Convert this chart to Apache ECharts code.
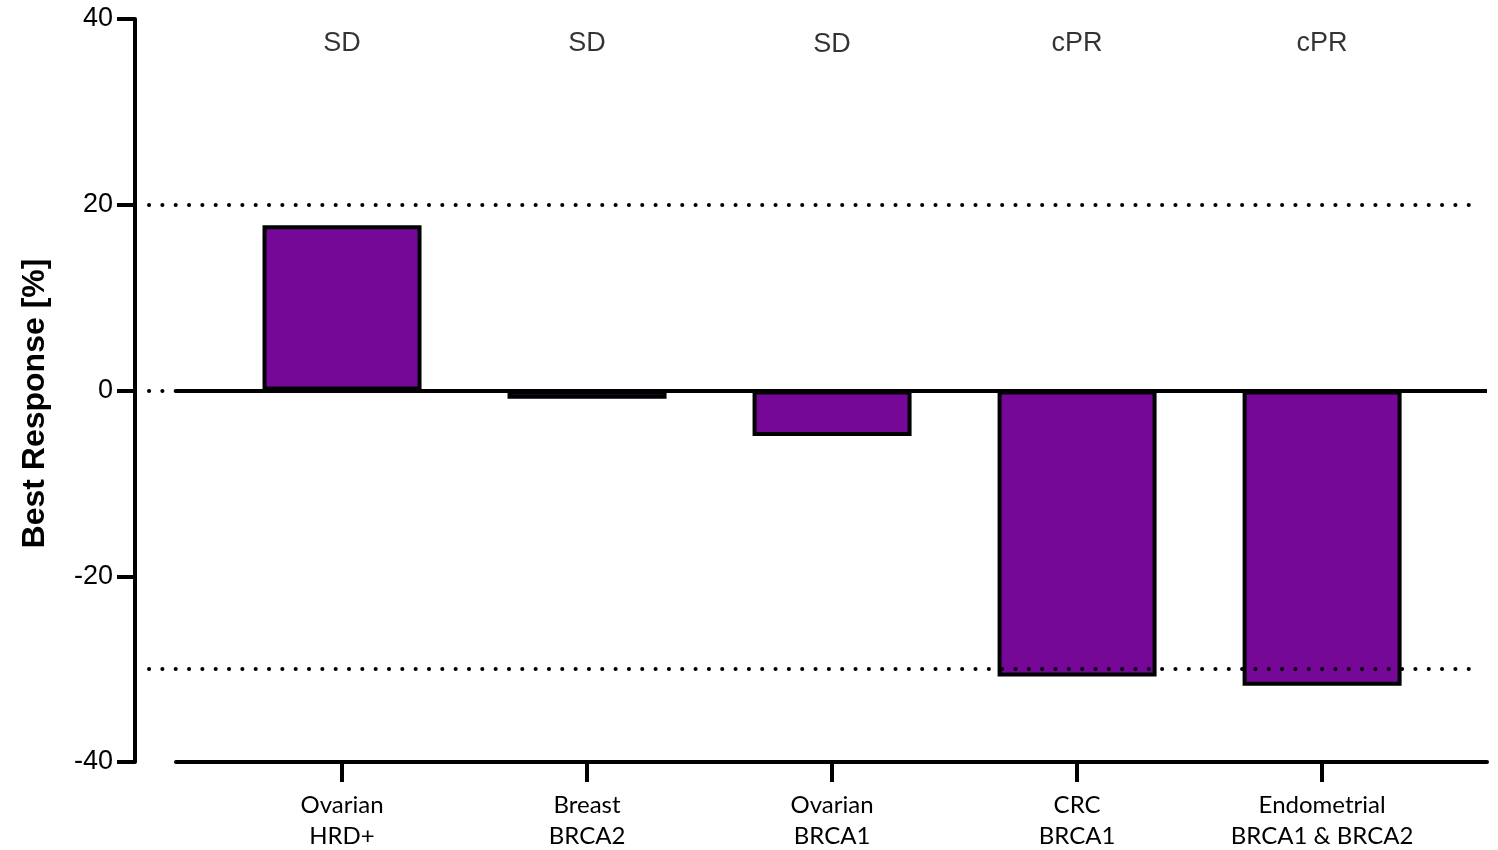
<!DOCTYPE html>
<html>
<head>
<meta charset="utf-8">
<script src="https://cdn.jsdelivr.net/npm/echarts@6/dist/echarts.min.js"></script>
<style>html,body{margin:0;padding:0;background:#fff;}#c{width:1498px;height:850px;}</style>
</head>
<body>
<div id="c"></div>
<script>
// ---- data ----
var categories = ['Ovarian\nHRD+', 'Breast\nBRCA2', 'Ovarian\nBRCA1', 'CRC\nBRCA1', 'Endometrial\nBRCA1 & BRCA2'];
var bestResponse = [17.8, -0.9, -4.9, -30.8, -31.8];
var responseLabels = ['SD', 'SD', 'SD', 'cPR', 'cPR'];
var responseLabelLevel = [37.4, 37.4, 37.3, 37.4, 37.4];
var yTicks = [-40, -20, 0, 20, 40];
var thresholds = [20, 0, -30];

var positions = categories.map(function (_, i) { return i; });
var barData = bestResponse.map(function (v, i) { return [i, v]; });
var topLabelData = responseLabels.map(function (t, i) { return [i, responseLabelLevel[i]]; });

var chart = echarts.init(document.getElementById('c'));
var yRange = { min: yTicks[0], max: yTicks[yTicks.length - 1] };

chart.setOption({
  animation: false,
  backgroundColor: '#ffffff',
  grid: [
    { left: 135, right: 18, top: 19, bottom: 88, outerBoundsMode: 'none', containLabel: false },
    { left: 149, right: 18, top: 19, bottom: 88, outerBoundsMode: 'none', containLabel: false },
    { left: 176, right: 11, top: 19, bottom: 88, outerBoundsMode: 'none', containLabel: false }
  ],
  xAxis: [
    { gridIndex: 0, type: 'value', min: 0, max: 1, show: false },
    { gridIndex: 1, type: 'value', min: 0, max: 1, show: false },
    {
      gridIndex: 2, type: 'value', min: -0.6776, max: 4.673,
      position: 'bottom',
      splitLine: { show: false },
      axisLine: { show: true, onZero: false, lineStyle: { color: '#000', width: 4 } },
      axisTick: { show: true, length: 20, lineStyle: { color: '#000', width: 4 }, customValues: positions },
      axisLabel: {
        show: true, customValues: positions, margin: 28,
        fontFamily: 'Lato', fontSize: 24, color: '#000', lineHeight: 31,
        formatter: function (v) { return categories[Math.round(v)]; }
      }
    }
  ],
  yAxis: [
    {
      gridIndex: 0, type: 'value', min: yRange.min, max: yRange.max, interval: 20,
      splitLine: { show: false },
      axisLine: { show: true, lineStyle: { color: '#000', width: 4 } },
      axisTick: { show: true, length: 18, lineStyle: { color: '#000', width: 4 } },
      axisLabel: { margin: 22, fontFamily: 'Liberation Sans', fontSize: 27, color: '#000' },
      name: 'Best Response [%]', nameLocation: 'middle', nameGap: 84,
      nameTextStyle: { fontFamily: 'Liberation Sans', fontWeight: 'bold', fontSize: 32, color: '#000', padding: [0, 26, 0, 0] }
    },
    { gridIndex: 1, type: 'value', min: yRange.min, max: yRange.max, show: false },
    { gridIndex: 2, type: 'value', min: yRange.min, max: yRange.max, show: false }
  ],
  series: [
    {
      type: 'line', xAxisIndex: 1, yAxisIndex: 1, data: [], silent: true,
      markLine: {
        symbol: ['none', 'none'], silent: true, label: { show: false },
        lineStyle: { color: '#000', width: 4, type: [0.1, 13.23], cap: 'round' },
        data: thresholds.map(function (t) { return { yAxis: t }; })
      }
    },
    {
      type: 'bar', xAxisIndex: 2, yAxisIndex: 2, barWidth: 159, data: barData,
      itemStyle: { color: '#760898', borderColor: '#000', borderWidth: 4 },
      markLine: {
        symbol: ['none', 'none'], silent: true, label: { show: false }, z: 3,
        lineStyle: { color: '#000', width: 4, type: 'solid' },
        data: [{ yAxis: 0 }]
      }
    },
    {
      type: 'scatter', xAxisIndex: 2, yAxisIndex: 2, data: topLabelData, symbolSize: 0,
      label: {
        show: true, position: 'inside', fontFamily: 'Liberation Sans', fontSize: 27, color: '#000',
        textBorderWidth: 0,
        formatter: function (p) { return responseLabels[p.dataIndex]; }
      }
    }
  ]
});
</script>
</body>
</html>
